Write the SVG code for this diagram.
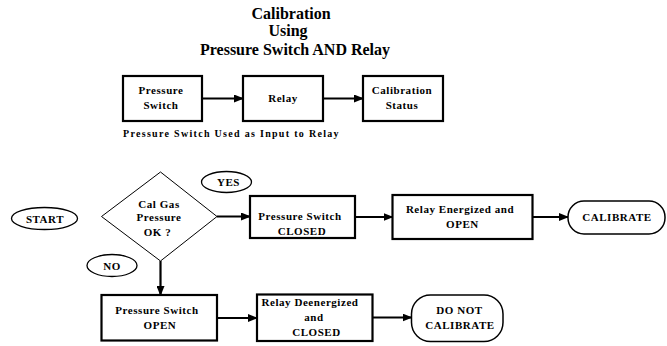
<svg xmlns="http://www.w3.org/2000/svg" width="667" height="346" viewBox="0 0 667 346">
<style>
text{font-family:"Liberation Serif","Times New Roman",serif;font-weight:bold;fill:#000}
.t{font-size:16px}
.b{font-size:11px;letter-spacing:0.55px;text-anchor:middle}
.s{font-size:10px;letter-spacing:1.3px}
.box{fill:#fff;stroke:#000;stroke-width:2.2}
.ell{fill:#fff;stroke:#000;stroke-width:1.3}
.dia{fill:#fff;stroke:#000;stroke-width:1}
.stad{fill:#fff;stroke:#000;stroke-width:1.5}
.c{fill:none;stroke:#000;stroke-width:2.2}
</style>
<defs>
<marker id="ah" markerWidth="10" markerHeight="8" refX="9" refY="4" orient="auto" markerUnits="userSpaceOnUse">
<path d="M0,0 L10,4 L0,8 Z" fill="#000"/>
</marker>
</defs>
<g id="title">
<text class="t" x="291" y="19" text-anchor="middle">Calibration</text>
<text class="t" x="288" y="36" text-anchor="middle">Using</text>
<text class="t" x="295" y="55" text-anchor="middle">Pressure Switch AND Relay</text>
</g>
<g id="connectors">
<line class="c" x1="202" y1="98.5" x2="243" y2="98.5" marker-end="url(#ah)"/>
<line class="c" x1="323" y1="98.5" x2="363" y2="98.5" marker-end="url(#ah)"/>
<line class="c" x1="217" y1="216.5" x2="250" y2="216.5" marker-end="url(#ah)"/>
<line class="c" x1="355" y1="217" x2="392.5" y2="217" marker-end="url(#ah)"/>
<line class="c" x1="532" y1="217" x2="568" y2="217" marker-end="url(#ah)"/>
<line class="c" x1="160.5" y1="261" x2="160.5" y2="295" marker-end="url(#ah)"/>
<line class="c" x1="217" y1="318" x2="257" y2="318" marker-end="url(#ah)"/>
<line class="c" x1="372.5" y1="317.5" x2="411.5" y2="317.5" marker-end="url(#ah)"/>
</g>
<g id="n-pressure-switch">
<rect class="box" x="123" y="76" width="79" height="45"/>
<text class="b" x="161" y="94">Pressure</text>
<text class="b" x="161" y="108.5">Switch</text>
</g>
<g id="n-relay">
<rect class="box" x="243" y="76" width="80" height="45"/>
<text class="b" x="283" y="102">Relay</text>
</g>
<g id="n-calibration-status">
<rect class="box" x="363" y="76" width="80" height="45"/>
<text class="b" x="402" y="94">Calibration</text>
<text class="b" x="402" y="108.5">Status</text>
</g>
<g id="subtitle">
<text class="s" x="123" y="137">Pressure Switch Used as Input to Relay</text>
</g>
<g id="n-start">
<ellipse class="ell" cx="44.5" cy="218.5" rx="33" ry="11"/>
<text class="b" x="45" y="222.5">START</text>
</g>
<g id="n-decision">
<polygon class="dia" points="160.5,172 217,216.5 160.5,261 101.5,216.5"/>
<text class="b" x="159" y="207.5">Cal Gas</text>
<text class="b" x="159" y="221">Pressure</text>
<text class="b" x="157.5" y="235.5">OK ?</text>
</g>
<g id="n-yes">
<ellipse class="ell" cx="226.5" cy="182" rx="25" ry="10.5"/>
<text class="b" x="228.5" y="186">YES</text>
</g>
<g id="n-no">
<ellipse class="ell" cx="112" cy="265.5" rx="25" ry="11"/>
<text class="b" x="112" y="269.5">NO</text>
</g>
<g id="n-ps-closed">
<rect class="box" x="250" y="196" width="105" height="42"/>
<text class="b" x="300" y="220">Pressure Switch</text>
<text class="b" x="302" y="235">CLOSED</text>
</g>
<g id="n-relay-energized">
<rect class="box" x="392.5" y="195" width="140" height="44"/>
<text class="b" x="460" y="212.5">Relay Energized and</text>
<text class="b" x="462.5" y="227.5">OPEN</text>
</g>
<g id="n-calibrate">
<rect class="stad" x="568" y="201" width="97" height="33" rx="16" ry="16"/>
<text class="b" x="617" y="221">CALIBRATE</text>
</g>
<g id="n-ps-open">
<rect class="box" x="101.5" y="295" width="115.5" height="45.5"/>
<text class="b" x="157" y="314">Pressure Switch</text>
<text class="b" x="160" y="328.5">OPEN</text>
</g>
<g id="n-relay-deenergized">
<rect class="box" x="257" y="294.5" width="115.5" height="46.5"/>
<text class="b" x="310" y="306">Relay Deenergized</text>
<text class="b" x="314" y="320.5">and</text>
<text class="b" x="316.5" y="336">CLOSED</text>
</g>
<g id="n-do-not-calibrate">
<rect class="stad" x="411.5" y="295" width="91.5" height="46.5" rx="19" ry="19"/>
<text class="b" x="459.5" y="313.5">DO NOT</text>
<text class="b" x="460" y="328.5">CALIBRATE</text>
</g>
</svg>
